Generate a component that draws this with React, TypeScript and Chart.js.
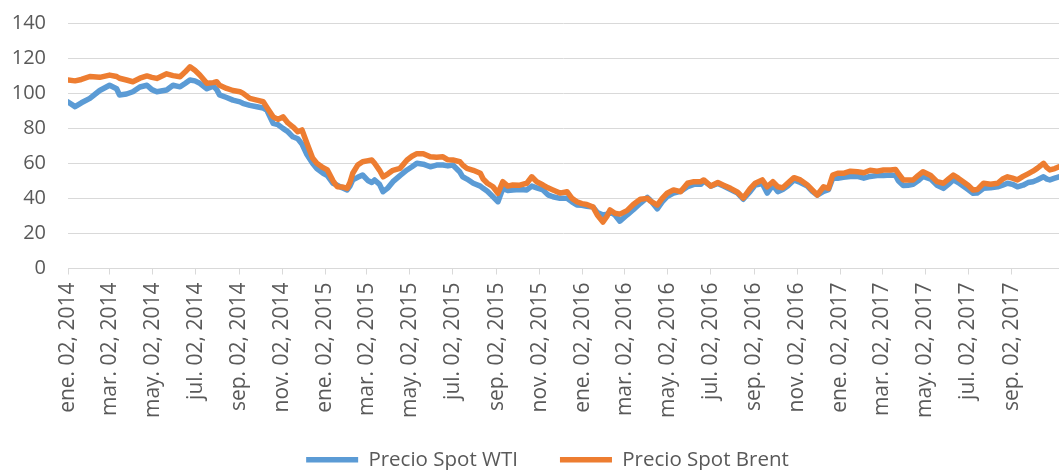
import { useEffect, useRef } from "react";
import { Chart, registerables } from "chart.js";

Chart.register(...registerables);

const dates: string[] = [
  "2014-01-02", "2014-01-12", "2014-01-21", "2014-02-02", "2014-02-16", "2014-03-02", "2014-03-12", "2014-03-16",
  "2014-03-26", "2014-04-04", "2014-04-14", "2014-04-24", "2014-05-01", "2014-05-08", "2014-05-22", "2014-05-31",
  "2014-06-10", "2014-06-17", "2014-06-24", "2014-07-01", "2014-07-08", "2014-07-18", "2014-07-27", "2014-08-01",
  "2014-08-05", "2014-08-15", "2014-08-24", "2014-09-03", "2014-09-07", "2014-09-17", "2014-09-27", "2014-10-06",
  "2014-10-11", "2014-10-20", "2014-10-27", "2014-11-03", "2014-11-10", "2014-11-17", "2014-11-24", "2014-11-30",
  "2014-12-07", "2014-12-15", "2014-12-21", "2014-12-30", "2015-01-05", "2015-01-13", "2015-01-19", "2015-01-26",
  "2015-02-02", "2015-02-06", "2015-02-10", "2015-02-17", "2015-02-24", "2015-03-04", "2015-03-09", "2015-03-13",
  "2015-03-20", "2015-03-25", "2015-04-01", "2015-04-08", "2015-04-18", "2015-04-28", "2015-05-05", "2015-05-12",
  "2015-05-21", "2015-05-31", "2015-06-09", "2015-06-18", "2015-06-25", "2015-07-02", "2015-07-12", "2015-07-16",
  "2015-07-22", "2015-07-31", "2015-08-10", "2015-08-14", "2015-08-20", "2015-08-28", "2015-09-04", "2015-09-11",
  "2015-09-18", "2015-09-25", "2015-10-05", "2015-10-15", "2015-10-22", "2015-10-29", "2015-11-07", "2015-11-14",
  "2015-11-21", "2015-12-01", "2015-12-11", "2015-12-18", "2015-12-25", "2016-01-01", "2016-01-08", "2016-01-17",
  "2016-01-23", "2016-01-31", "2016-02-06", "2016-02-10", "2016-02-17", "2016-02-24", "2016-03-05", "2016-03-14",
  "2016-03-24", "2016-04-03", "2016-04-07", "2016-04-17", "2016-04-24", "2016-05-01", "2016-05-10", "2016-05-20",
  "2016-05-30", "2016-06-08", "2016-06-18", "2016-06-22", "2016-07-02", "2016-07-12", "2016-07-20", "2016-07-30",
  "2016-08-09", "2016-08-17", "2016-08-27", "2016-09-03", "2016-09-13", "2016-09-20", "2016-09-28", "2016-10-05",
  "2016-10-12", "2016-10-19", "2016-10-28", "2016-11-06", "2016-11-16", "2016-11-23", "2016-11-30", "2016-12-09",
  "2016-12-16", "2016-12-22", "2016-12-29", "2017-01-06", "2017-01-16", "2017-01-26", "2017-02-04", "2017-02-13",
  "2017-02-23", "2017-03-04", "2017-03-14", "2017-03-21", "2017-03-25", "2017-04-01", "2017-04-08", "2017-04-15",
  "2017-04-22", "2017-04-29", "2017-05-10", "2017-05-19", "2017-05-28", "2017-06-04", "2017-06-11", "2017-06-18",
  "2017-06-25", "2017-07-02", "2017-07-09", "2017-07-15", "2017-07-24", "2017-08-03", "2017-08-13", "2017-08-20",
  "2017-08-27", "2017-09-03", "2017-09-10", "2017-09-18", "2017-09-25", "2017-10-02", "2017-10-08", "2017-10-17",
  "2017-10-22", "2017-10-26", "2017-11-02", "2017-11-08",
];

const wti: number[] = [
  95, 92.3, 94.5, 97, 101.5, 104.5, 102.5, 99,
  99.5, 100.8, 103.5, 104.5, 102, 100.8, 101.8, 104.5,
  103.6, 105.5, 107.5, 107, 105.6, 102.5, 104, 102,
  99, 97.5, 96, 95, 94.2, 93, 92.2, 91.5,
  90.4, 82.8, 82, 79.9, 78, 75.1, 74, 71,
  65, 60, 57, 54.3, 53, 48.6, 47.5, 46,
  44.8, 47, 50.5, 52, 53.3, 50, 49, 50.5,
  48, 43.8, 46, 49.5, 53, 56.2, 58, 60,
  59.5, 58, 59, 59, 58.5, 59, 55, 52.3,
  51, 48.6, 47, 45.7, 44, 40.9, 38.1, 45.7,
  44.5, 44.8, 45, 44.8, 47, 46, 44.8, 42,
  40.9, 40, 40, 38, 36.2, 36, 35.5, 35,
  32, 30.5, 31, 32.4, 30.5, 27, 30.5, 33.5,
  37.2, 40.5, 39, 34, 38, 41, 43, 44,
  46.6, 48, 48, 50, 47, 48.5, 47, 45,
  43, 39.5, 44, 47.6, 48.5, 43, 47.5, 43.8,
  45, 47, 50.5, 49, 47, 44, 41.9, 44,
  45, 51.5, 51.4, 52, 52.5, 52.5, 51.5, 52.5,
  53, 53, 53.3, 53, 50, 47.3, 47.5, 48,
  50, 52.5, 51, 47.5, 45.7, 48, 50.5, 49,
  47, 45, 42.9, 43, 45.7, 46, 46.6, 47.5,
  48.6, 48, 46.6, 47.5, 49, 49.5, 50.5, 52.3,
  51, 50.5, 51.5, 52.3,
];

const brent: number[] = [
  107.5, 107, 107.8, 109.5, 109, 110.3, 109.5, 108.5,
  107.5, 106.5, 108.5, 109.8, 109, 108.4, 111, 110,
  109.4, 112, 115, 113, 110.3, 105.6, 106, 106.5,
  104.5, 102.7, 101.5, 100.8, 100, 97, 96, 95.1,
  92, 86.5, 85, 86.5, 83, 80.8, 78, 79,
  71.4, 63, 60, 57.5, 56.2, 50, 46.6, 46.5,
  45.7, 49, 54.3, 59, 60.9, 61.5, 61.9, 60,
  56, 52.3, 54, 56, 57.1, 61.9, 64, 65.5,
  65.5, 63.7, 63.5, 63.7, 62, 61.9, 60.9, 59,
  57.1, 56, 54.3, 51, 48.6, 46.6, 42.9, 49.5,
  47, 47.6, 47.5, 48.6, 52.3, 49.5, 47.6, 46,
  44.8, 43, 43.8, 40, 38.1, 37, 36.5, 35,
  30.5, 26.5, 30, 33.4, 31.5, 31, 33, 36.5,
  39.5, 40, 38.5, 36.2, 40, 42.9, 44.8, 43.8,
  48.6, 49.5, 49.5, 50.5, 47, 49, 47.5, 45.7,
  43.5, 40.2, 45.7, 48.6, 50.5, 46.6, 49.5, 46.6,
  46, 48.6, 51.8, 50.5, 47.6, 44.8, 41.9, 46.6,
  45.7, 53.3, 54.3, 54.3, 55.5, 55.2, 54.6, 56,
  55.5, 56.2, 56.2, 56.5, 54.3, 50.5, 50.5, 50.5,
  53, 55.2, 53, 49.5, 48.6, 51, 53.3, 51.5,
  49.5, 47.5, 44.8, 45, 48.6, 48, 48.6, 51,
  52.3, 51.5, 50.5, 52.5, 54, 55.5, 57.1, 60,
  57.5, 56.2, 57, 58,
];

const tickDates: string[] = [
  "2014-01-02", "2014-03-02", "2014-05-02", "2014-07-02", "2014-09-02", "2014-11-02",
  "2015-01-02", "2015-03-02", "2015-05-02", "2015-07-02", "2015-09-02", "2015-11-02",
  "2016-01-02", "2016-03-02", "2016-05-02", "2016-07-02", "2016-09-02", "2016-11-02",
  "2017-01-02", "2017-03-02", "2017-05-02", "2017-07-02", "2017-09-02",
];

const tickLabels: string[] = [
  "ene. 02, 2014", "mar. 02, 2014", "may. 02, 2014", "jul. 02, 2014", "sep. 02, 2014", "nov. 02, 2014",
  "ene. 02, 2015", "mar. 02, 2015", "may. 02, 2015", "jul. 02, 2015", "sep. 02, 2015", "nov. 02, 2015",
  "ene. 02, 2016", "mar. 02, 2016", "may. 02, 2016", "jul. 02, 2016", "sep. 02, 2016", "nov. 02, 2016",
  "ene. 02, 2017", "mar. 02, 2017", "may. 02, 2017", "jul. 02, 2017", "sep. 02, 2017",
];

const axisStart = "2014-01-02";
const axisEnd = "2017-11-08";
const seriesNames = ["Precio Spot WTI", "Precio Spot Brent"];
const seriesColors = ["#5B9BD5", "#ED7D31"];

const dayOf = (s: string) => {
  const [y, m, d] = s.split("-").map(Number);
  const [y0, m0, d0] = axisStart.split("-").map(Number);
  return Math.round((Date.UTC(y, m - 1, d) - Date.UTC(y0, m0 - 1, d0)) / 86400000);
};

// Small layout adjustments: centre the legend like the reference and let the
// rotated date labels run past the axis box without being clipped.
const layoutTweaks = {
  id: "layoutTweaks",
  afterLayout(chart: any) {
    const lg = chart.legend;
    if (lg) {
      lg.left += 18;
      lg.right += 18;
    }
    const xs = chart.scales && chart.scales.x;
    if (xs) xs.bottom = xs.top + 170;
  },
};

export default function App() {
  const ref = useRef<HTMLCanvasElement | null>(null);

  useEffect(() => {
    if (!ref.current) return;
    const tickDays = tickDates.map(dayOf);
    const labelMap = new Map<number, string>();
    tickDays.forEach((d, i) => labelMap.set(d, tickLabels[i]));

    Chart.defaults.font.family = "'Open Sans', sans-serif";
    Chart.defaults.color = "#595959";

    const chart = new Chart(ref.current, {
      type: "line",
      data: {
        datasets: [
          {
            label: seriesNames[0],
            data: dates.map((d, i) => ({ x: dayOf(d), y: wti[i] })),
            borderColor: seriesColors[0],
            backgroundColor: seriesColors[0],
            borderWidth: 5.5,
            borderCapStyle: "round",
            borderJoinStyle: "round",
            pointRadius: 0,
            tension: 0,
            order: 2,
          },
          {
            label: seriesNames[1],
            data: dates.map((d, i) => ({ x: dayOf(d), y: brent[i] })),
            borderColor: seriesColors[1],
            backgroundColor: seriesColors[1],
            borderWidth: 5.5,
            borderCapStyle: "round",
            borderJoinStyle: "round",
            pointRadius: 0,
            tension: 0,
            order: 1,
          },
        ],
      },
      options: {
        responsive: false,
        animation: false,
        devicePixelRatio: 1,
        events: [],
        layout: { padding: { left: 0, right: 0, top: 23, bottom: 0 } },
        scales: {
          x: {
            type: "linear",
            min: 0,
            max: dayOf(axisEnd),
            afterBuildTicks: (scale: any) => {
              scale.ticks = tickDays.map((v) => ({ value: v }));
            },
            afterFit: (scale: any) => {
              scale.height = 139;
            },
            ticks: {
              autoSkip: false,
              minRotation: 90,
              maxRotation: 90,
              padding: 8,
              font: { size: 21 },
              color: "#595959",
              callback: (v: any) => labelMap.get(Number(v)) ?? "",
            },
            grid: {
              drawOnChartArea: false,
              drawTicks: true,
              tickLength: 6,
              color: "#D9D9D9",
            },
            border: { color: "#D9D9D9", width: 1 },
          },
          y: {
            min: 0,
            max: 140,
            afterFit: (scale: any) => {
              scale.width = 68;
            },
            ticks: { stepSize: 20, padding: 10, font: { size: 20 }, color: "#595959" },
            grid: {
              color: "#D9D9D9",
              drawTicks: true,
              tickLength: 12,
              tickColor: "rgba(0,0,0,0)",
              lineWidth: 1,
            },
            border: { display: false },
          },
        },
        plugins: {
          tooltip: { enabled: false },
          legend: {
            position: "bottom",
            labels: {
              usePointStyle: true,
              pointStyle: "line",
              pointStyleWidth: 52,
              padding: 42,
              font: { size: 20.5 },
              color: "#595959",
              sort: (a: any, b: any) => a.datasetIndex - b.datasetIndex,
            },
          },
        },
      },
      plugins: [layoutTweaks],
    });
    return () => chart.destroy();
  }, []);

  return (
    <div
      style={{
        position: "absolute",
        left: 0,
        top: 0,
        width: 1059,
        height: 470,
        overflow: "hidden",
        background: "#ffffff",
      }}
    >
      <canvas ref={ref} width={1059} height={480} style={{ display: "block", width: 1059, height: 480 }} />
    </div>
  );
}
